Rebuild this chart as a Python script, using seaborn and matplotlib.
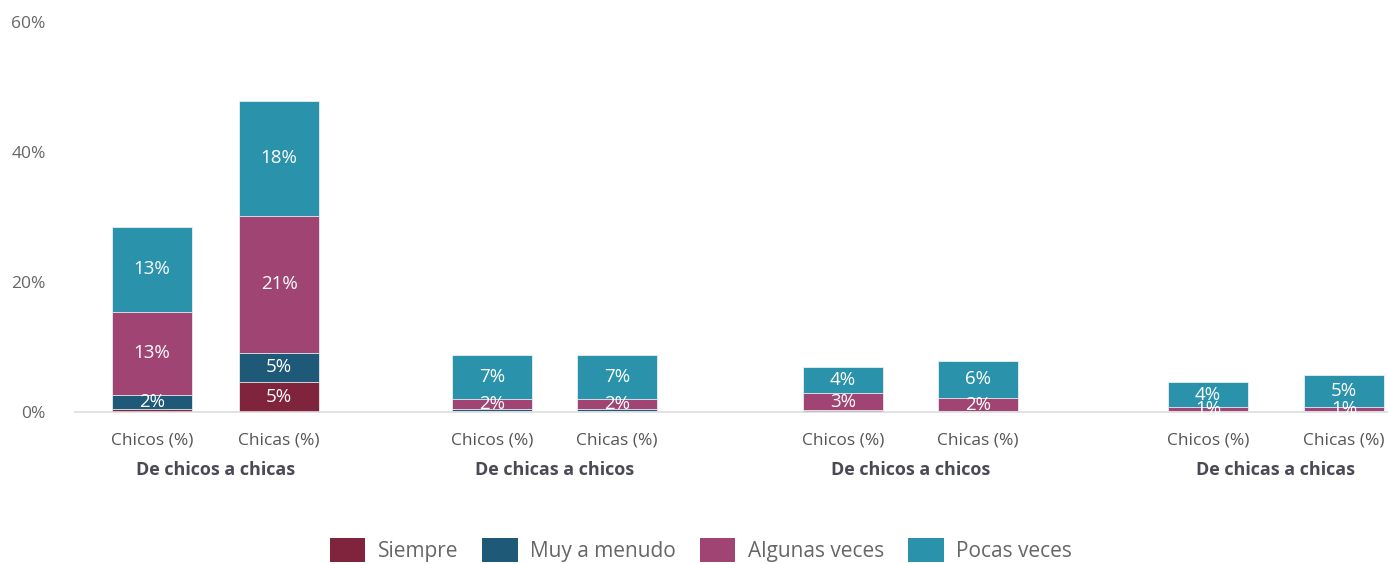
import numpy as np
import pandas as pd
import matplotlib
matplotlib.use("Agg")
import matplotlib.pyplot as plt
import seaborn as sns
from matplotlib.patches import Patch

sns.set_theme(style="white")
plt.rcParams['font.family'] = ['Open Sans', 'DejaVu Sans']

# ---- data ----
groups = ["De chicos a chicas", "De chicas a chicos", "De chicos a chicos", "De chicas a chicas"]
subcats = ["Chicos (%)", "Chicas (%)"]
series = ["Siempre", "Muy a menudo", "Algunas veces", "Pocas veces"]
# order: g1 chicos, g1 chicas, g2 chicos, g2 chicas, ...
siempre = [0.45, 4.6, 0.1, 0.1, 0.25, 0.1, 0.05, 0.05]
muy     = [2.1, 4.5, 0.3, 0.3, 0.05, 0.05, 0.05, 0.05]
algunas = [12.9, 21.1, 1.6, 1.6, 2.6, 2.0, 0.6, 0.7]
pocas   = [13.0, 17.7, 6.8, 6.8, 4.05, 5.75, 3.9, 4.9]
yticks = [0, 20, 40, 60]

# ---- layout ----
xpos = [152, 279, 492, 617, 843, 978, 1208, 1344]
colors = {"Siempre": "#80233c", "Muy a menudo": "#1e5a78",
          "Algunas veces": "#a04473", "Pocas veces": "#2a93ab"}

vals = {"Siempre": siempre, "Muy a menudo": muy, "Algunas veces": algunas, "Pocas veces": pocas}
cum = np.zeros(len(xpos))
cums = {}
for s in series:
    cum = cum + np.array(vals[s])
    cums[s] = cum.copy()

fig = plt.figure(figsize=(13.88, 5.64), dpi=100)
ax = fig.add_axes([75/1388, 152/564, 1 - 75/1388, 390/564])

for s in reversed(series):
    df = pd.DataFrame({"x": xpos, "y": cums[s]})
    sns.barplot(data=df, x="x", y="y", native_scale=True, color=colors[s],
                width=80/125, ax=ax, edgecolor="#e8eef2", linewidth=0.6,
                saturation=1, errorbar=None)

# labels
for s in series:
    bottoms = cums[s] - np.array(vals[s])
    for i, v in enumerate(vals[s]):
        if v >= 0.5:
            ax.text(xpos[i], bottoms[i] + v/2, f"{int(v + 0.5)}%", ha="center", va="center",
                    color="white", fontsize=13.5)

ax.set_xlim(75, 1388)
ax.set_ylim(0, 60)
ax.set_yticks(yticks)
ax.set_yticklabels([f"{t}%" for t in yticks], color="#666666", fontsize=12.5)
ax.set_xticks(xpos)
ax.set_xticklabels([subcats[i % 2] for i in range(len(xpos))], color="#555555", fontsize=12.5)
ax.tick_params(axis="x", length=0, pad=15)
ax.tick_params(axis="y", length=0, pad=21)
ax.set_xlabel("")
ax.set_ylabel("")
for sp in ["top", "right", "left"]:
    ax.spines[sp].set_visible(False)
ax.spines["bottom"].set_color("#dddddd")
ax.spines["bottom"].set_linewidth(1.2)

for g in range(len(groups)):
    cx = (xpos[2*g] + xpos[2*g+1]) / 2
    ax.text(cx, -8.85, groups[g], ha="center", va="center", fontsize=13, fontweight="bold",
            color="#4a4a55", transform=ax.transData, clip_on=False)

handles = [Patch(facecolor=colors[s], edgecolor="none") for s in series]
fig.legend(handles, series, loc="center", bbox_to_anchor=(701/1388, 1 - 550/564), ncol=4,
           frameon=False, fontsize=15, labelcolor="#666666", handlelength=1.7, handleheight=1.45,
           columnspacing=1.15, handletextpad=0.6)

fig.savefig("out.png", dpi=100)
